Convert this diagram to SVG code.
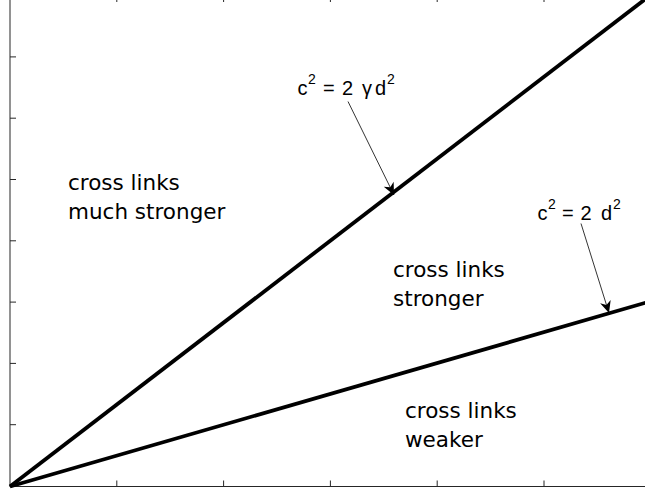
<svg xmlns="http://www.w3.org/2000/svg" width="645" height="492" viewBox="0 0 645 492">
<style>
.ax{fill:none;stroke:#262626;stroke-width:1}
.tk{stroke:#262626;stroke-width:1}
.thick{stroke:#000;stroke-width:3.8;fill:none}
.thin{stroke:#000;stroke-width:0.8;fill:none}
.lbl{font-family:"DejaVu Sans",sans-serif;font-size:21.5px;fill:#000}
.eq{font-family:"Liberation Sans",Arial,sans-serif;font-size:20px;fill:#000}
.sup{font-family:"Liberation Sans",Arial,sans-serif;font-size:14px;fill:#000}
</style>
<defs>
<marker id="ah" markerUnits="userSpaceOnUse" markerWidth="16" markerHeight="16" viewBox="-14 -8 16 16" refX="0" refY="0" orient="auto">
<path d="M0,0 L-12,-5.5 L-8.5,0 L-12,5.5 Z" fill="#000"/>
</marker>
</defs>
<rect width="645" height="492" fill="#fff"/>
<g id="axes">
<rect class="ax" x="10" y="-4" width="641" height="490.5"/>
<path class="tk" d="M116.8,486.5v-6M223.6,486.5v-6M330.4,486.5v-6M437.2,486.5v-6M544,486.5v-6M116.8,-4v6M223.6,-4v6M330.4,-4v6M437.2,-4v6M544,-4v6M10,424.7h6M10,363.4h6M10,302.1h6M10,240.8h6M10,179.5h6M10,118.2h6M10,56.9h6"/>
</g>
<g id="connectors">
<line id="line-gamma" class="thick" x1="10" y1="486.5" x2="648" y2="-3"/>
<line id="line-2" class="thick" x1="10" y1="486.5" x2="648" y2="302"/>
<line id="arrow-gamma" class="thin" x1="348" y1="101.5" x2="394" y2="195" marker-end="url(#ah)"/>
<line id="arrow-2" class="thin" x1="581" y1="223.5" x2="609" y2="313" marker-end="url(#ah)"/>
</g>
<g id="eq-gamma">
<text class="eq" x="297.5" y="95">c</text>
<text class="sup" x="308" y="83.5">2</text>
<text class="eq" x="323" y="95">=</text>
<text class="eq" x="342" y="95">2</text>
<text class="eq" x="362" y="95">γ</text>
<text class="eq" x="375" y="95">d</text>
<text class="sup" x="387" y="83.5">2</text>
</g>
<g id="eq-2">
<text class="eq" x="537.5" y="220">c</text>
<text class="sup" x="548" y="208.5">2</text>
<text class="eq" x="562" y="220">=</text>
<text class="eq" x="580.5" y="220">2</text>
<text class="eq" x="601" y="220">d</text>
<text class="sup" x="613" y="208.5">2</text>
</g>
<g id="region-much-stronger">
<text class="lbl" x="68" y="190">cross links</text>
<text class="lbl" x="68" y="219">much stronger</text>
</g>
<g id="region-stronger">
<text class="lbl" x="393" y="277">cross links</text>
<text class="lbl" x="393" y="306">stronger</text>
</g>
<g id="region-weaker">
<text class="lbl" x="405" y="418">cross links</text>
<text class="lbl" x="405" y="447">weaker</text>
</g>
</svg>
